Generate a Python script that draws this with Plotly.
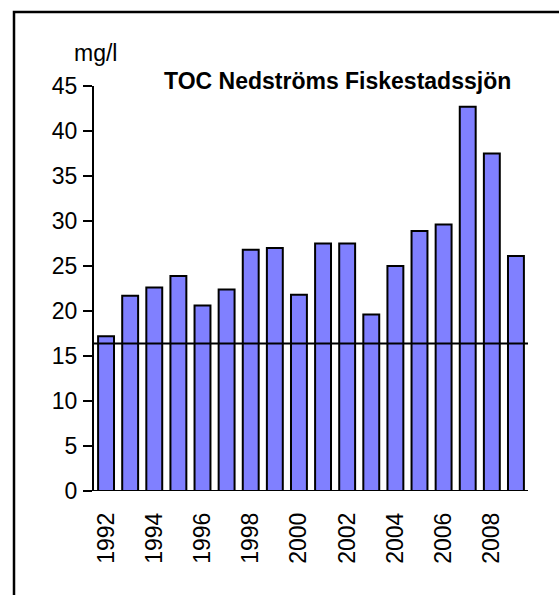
import plotly.graph_objects as go

# Annual TOC concentration downstream of Fiskestadssjön (mg/l)
years = list(range(1992, 2010))
toc = [17.2, 21.7, 22.6, 23.9, 20.6, 22.4, 26.8, 27.0, 21.8,
       27.5, 27.5, 19.6, 25.0, 28.9, 29.6, 42.7, 37.5, 26.1]
reference_level = 16.4
year_ticks = [1992, 1994, 1996, 1998, 2000, 2002, 2004, 2006, 2008]
y_ticks = [0, 5, 10, 15, 20, 25, 30, 35, 40, 45]

W, H = 559, 595
L, R, T, B = 94, 31, 86, 103.5
pw, ph = W - L - R, H - T - B


def px_x(px):
    return (px - L) / pw


def px_y(py):
    return (H - B - py) / ph


FONT = "Arial, Liberation Sans, sans-serif"

fig = go.Figure()
fig.add_trace(go.Bar(
    x=years, y=toc, width=0.66,
    marker=dict(color="#8080FF", line=dict(color="black", width=2)),
))

fig.update_layout(
    width=W, height=H,
    margin=dict(l=L, r=R, t=T, b=B, pad=0),
    paper_bgcolor="white", plot_bgcolor="white",
    showlegend=False,
    font=dict(family=FONT, color="black", size=23),
    xaxis=dict(
        range=[1991.5, 2009.5], tickmode="array", tickvals=year_ticks,
        ticktext=[str(y) for y in year_ticks], tickangle=-90,
        showgrid=False, zeroline=False, showline=False, ticks="",
        tickfont=dict(size=23), ticklabelstandoff=16,
    ),
    yaxis=dict(
        range=[0, 45], tickmode="array", tickvals=y_ticks,
        showgrid=False, zeroline=False, showline=True, linecolor="black",
        linewidth=2, ticks="outside", ticklen=9, tickwidth=1.5,
        tickcolor="black", tickfont=dict(size=23), ticklabelstandoff=1,
    ),
    shapes=[
        # x axis baseline, starting at the zero tick
        dict(type="line", xref="paper", yref="y", x0=px_x(86), x1=1,
             y0=0, y1=0, line=dict(color="black", width=2)),
        # reference level
        dict(type="line", xref="paper", yref="y", x0=0, x1=1,
             y0=reference_level, y1=reference_level,
             line=dict(color="black", width=2)),
        # outer frame
        dict(type="rect", xref="paper", yref="paper",
             x0=px_x(14), x1=px_x(620), y0=px_y(12), y1=px_y(640),
             line=dict(color="black", width=2.5), layer="below"),
    ],
    annotations=[
        dict(text="<b>TOC Nedströms Fiskestadssjön</b>", xref="paper",
             yref="paper", x=px_x(337), y=px_y(81), xanchor="center",
             yanchor="middle", showarrow=False,
             font=dict(size=23, family=FONT)),
        dict(text="mg/l", xref="paper", yref="paper", x=px_x(95),
             y=px_y(53), xanchor="center", yanchor="middle",
             showarrow=False, font=dict(size=23, family=FONT)),
    ],
)

fig.write_html("out.html")
